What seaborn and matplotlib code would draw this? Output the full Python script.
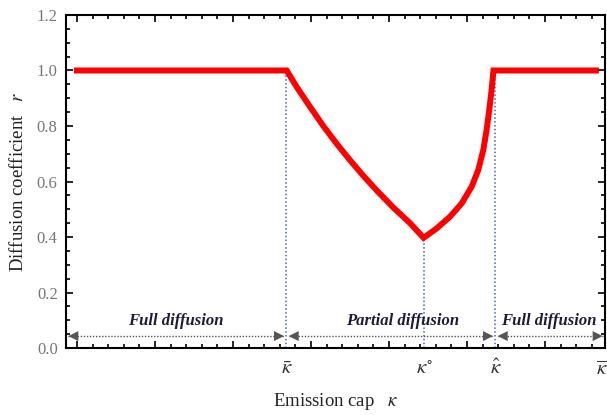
import numpy as np
import pandas as pd
import seaborn as sns
import matplotlib.pyplot as plt
from matplotlib.ticker import MultipleLocator, NullFormatter

# --- DATA ---
curve_x = [-0.2, 13.44, 14.08, 14.94, 15.79, 16.65, 17.50, 18.35, 19.21, 20.28, 21.35, 22.22,
           23.06, 23.91, 24.66, 25.30, 25.72, 26.05, 26.26, 26.43, 26.58, 26.70, 33.46]
curve_r = [1.0, 1.0, 0.941, 0.869, 0.800, 0.736, 0.677, 0.621, 0.568, 0.506, 0.450, 0.397,
           0.431, 0.473, 0.521, 0.581, 0.641, 0.714, 0.786, 0.858, 0.930, 1.0, 1.0]

kappa_pos = [13.42, 22.25, 26.82, 33.62]
kappa_labels = [r'$\bar{\kappa}$', r'$\kappa^{\circ}$', r'$\hat{\kappa}$', r'$\overline{\kappa}$']
guide_top = [1.0, 0.397, 1.0]

region_edges = [-0.71, 13.42, 26.82, 33.85]
region_labels = ["Full diffusion", "Partial diffusion", "Full diffusion"]
region_text_x = [6.35, 20.9, 30.25]

# --- STYLE ---
sns.set_theme(style="ticks")
plt.rcParams['font.family'] = ['Liberation Serif', 'DejaVu Serif']
plt.rcParams['mathtext.fontset'] = 'stix'

fig = plt.figure(figsize=(6.07, 4.15), dpi=100)
ax = fig.add_axes([0.1087, 0.1614, 0.8880, 0.8025])

df = pd.DataFrame({"kappa": curve_x, "r": curve_r})
sns.lineplot(data=df, x="kappa", y="r", ax=ax, color="#ff0000", lw=4.3,
             sort=False, solid_joinstyle="miter", solid_capstyle="butt", zorder=3)

# dotted guides down to the axis
for xp, top in zip(kappa_pos[:3], guide_top):
    ax.plot([xp, xp], [0, top], color="#4a5fc8", lw=1.1, ls=(0, (1, 1.5)), zorder=2)

# region arrows
arrow_y = 0.043
arrow_col = "#555555"
for i in range(3):
    x0, x1 = region_edges[i], region_edges[i + 1]
    pad = 0.15
    ax.plot([x0 + pad, x1 - pad], [arrow_y, arrow_y], color=arrow_col, lw=1.0,
            ls=(0, (1, 1.2)), zorder=2)
    for end, start in [(x0 + pad, x0 + 1.2), (x1 - pad, x1 - 1.2)]:
        ax.annotate("", xy=(end, arrow_y), xytext=(start, arrow_y),
                    arrowprops=dict(arrowstyle="-|>,head_length=0.6,head_width=0.3",
                                    color=arrow_col, lw=0, shrinkA=0, shrinkB=0))
    ax.text(region_text_x[i], 0.097, region_labels[i], ha="center", va="center",
            fontsize=12, fontweight="bold", fontstyle="italic", color="#1c1c3a")

# kappa labels under the axis
for xp, lab in zip(kappa_pos, kappa_labels):
    ax.text(xp, -0.079, lab, ha="center", va="center", fontsize=15, color="#333333",
            clip_on=False)

ax.set_xlim(-0.71, 33.85)
ax.set_ylim(0, 1.2)
ax.xaxis.set_major_locator(MultipleLocator(5))
ax.xaxis.set_minor_locator(MultipleLocator(1))
ax.xaxis.set_major_formatter(NullFormatter())
ax.yaxis.set_major_locator(MultipleLocator(0.2))
ax.yaxis.set_minor_locator(MultipleLocator(0.05))
ax.set_yticks(np.arange(0, 1.21, 0.2))
ax.set_yticklabels([f"{v:.1f}" for v in np.arange(0, 1.21, 0.2)])

ax.tick_params(which="both", direction="in", top=True, right=True, width=1.2,
               colors="black", labelcolor="#777777", labelsize=12, pad=6)
ax.tick_params(which="major", length=5)
ax.tick_params(which="minor", length=3)
for s in ax.spines.values():
    s.set_linewidth(1.5)
    s.set_color("black")

ax.set_xlabel(r"Emission cap   $\kappa$", fontsize=13.5, color="#222222", labelpad=25)
ax.set_ylabel(r"Diffusion coefficient   $r$", fontsize=13.5, color="#222222", labelpad=7)

fig.savefig("out.png", dpi=100)
